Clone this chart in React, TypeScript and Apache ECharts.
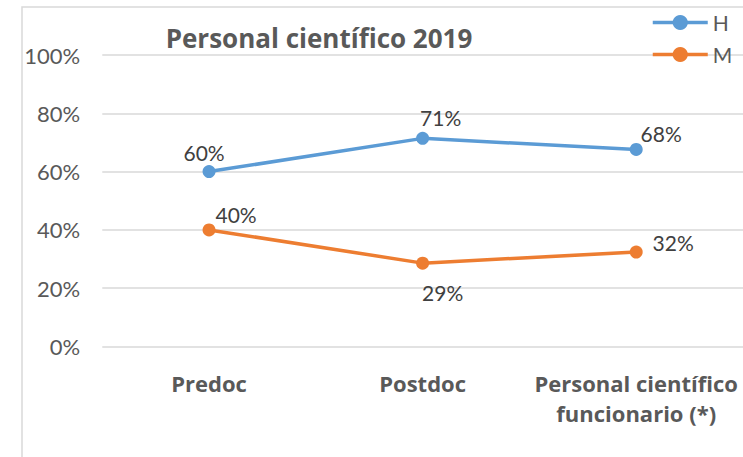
import React, { useEffect, useRef } from "react";
import * as echarts from "echarts";

const categories = ["Predoc", "Postdoc", "Personal científico\nfuncionario (*)"];
const seriesNames = ["H", "M"];
const valuesH = [60, 71.4, 67.6];
const valuesM = [40, 28.6, 32.4];
const yTicks = [0, 20, 40, 60, 80, 100];
const titleText = "Personal científico 2019";

// label offsets (styling only)
const offsetsH = [[-5, -19], [18, -21], [25, -16]];
const offsetsM = [[27, -15], [20, 29], [37, -10]];

const FONT = "Lato, 'Open Sans', sans-serif";
const BOLD_FONT = "'Open Sans', Lato, sans-serif";
const GREY = "#595959";
const BLUE = "#5B9BD5";
const ORANGE = "#ED7D31";

function buildData(values: number[], offsets: number[][]) {
  return values.map((v, i) => ({
    value: v,
    label: { offset: offsets[i] },
  }));
}

export default function App() {
  const ref = useRef<HTMLDivElement>(null);
  useEffect(() => {
    document.body.style.margin = "0";
    if (!ref.current) return;
    const chart = echarts.init(ref.current, null, { renderer: "svg" });
    const labelCommon = {
      show: true,
      position: "inside",
      align: "center",
      verticalAlign: "middle",
      fontFamily: FONT,
      fontSize: 21,
      color: "#404040",
      formatter: (p: any) => Math.round(p.value) + "%",
    };
    chart.setOption({
      animation: false,
      backgroundColor: "#ffffff",
      graphic: [
        {
          type: "rect",
          shape: { x: 22, y: 7, width: 900, height: 600 },
          style: { fill: "none", stroke: "#d9d9d9", lineWidth: 1.5 },
          silent: true,
        },
        {
          type: "text",
          x: 319,
          y: 38,
          style: {
            text: titleText,
            align: "center",
            verticalAlign: "middle",
            fontFamily: BOLD_FONT,
            fontWeight: "bold",
            fontSize: 26,
            fill: GREY,
          },
        },
      ],
      legend: {
        orient: "vertical",
        left: 646,
        top: 7,
        itemWidth: 55,
        itemHeight: 19,
        itemGap: 11,
        data: seriesNames,
        lineStyle: { width: 3.5 },
        textStyle: { fontFamily: FONT, fontSize: 21, color: GREY, lineHeight: 19 },
      },
      grid: { left: 102.25, right: -5.75, top: 55, bottom: 110.5, containLabel: false },
      xAxis: {
        type: "category",
        data: categories,
        boundaryGap: true,
        axisLine: { show: false },
        axisTick: { show: false },
        axisLabel: {
          fontFamily: BOLD_FONT,
          fontWeight: "bold",
          fontSize: 22,
          color: GREY,
          lineHeight: 30,
          margin: 21,
          interval: 0,
        },
      },
      yAxis: {
        type: "value",
        min: yTicks[0],
        max: yTicks[yTicks.length - 1],
        interval: 20,
        axisLine: { show: false },
        axisTick: { show: false },
        splitLine: { lineStyle: { color: "#d9d9d9", width: 1.5 } },
        axisLabel: {
          formatter: "{value}%",
          fontFamily: FONT,
          fontSize: 22,
          color: GREY,
          margin: 22,
        },
      },
      series: [
        {
          name: seriesNames[0],
          type: "line",
          data: buildData(valuesH, offsetsH),
          symbol: "circle",
          symbolSize: 13,
          color: BLUE,
          lineStyle: { width: 3.5, color: BLUE },
          itemStyle: { color: BLUE },
          label: labelCommon,
        },
        {
          name: seriesNames[1],
          type: "line",
          data: buildData(valuesM, offsetsM),
          symbol: "circle",
          symbolSize: 13,
          color: ORANGE,
          lineStyle: { width: 3.5, color: ORANGE },
          itemStyle: { color: ORANGE },
          label: labelCommon,
        },
      ],
    });
    return () => chart.dispose();
  }, []);
  return <div ref={ref} style={{ width: 743, height: 457 }} />;
}
